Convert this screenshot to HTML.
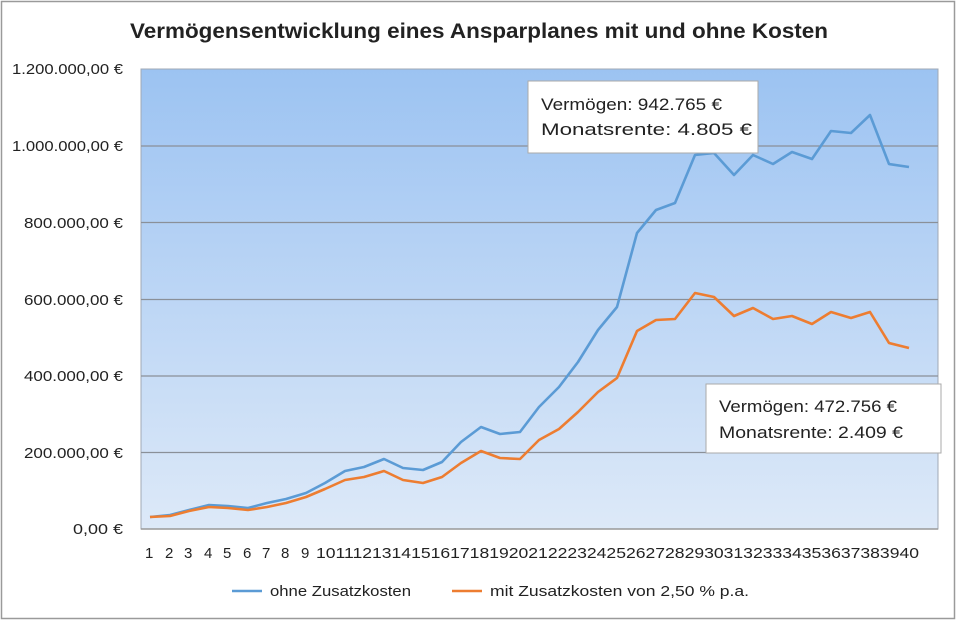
<!DOCTYPE html>
<html><head><meta charset="utf-8"><style>body{margin:0;background:#fff}svg{display:block}text{font-family:"Liberation Sans",sans-serif;fill:#222}</style></head>
<body>
<svg width="959" height="621" viewBox="0 0 959 621">
<defs><linearGradient id="g" x1="0" y1="0" x2="0" y2="1"><stop offset="0" stop-color="#9cc3f2"/><stop offset="1" stop-color="#dde9f8"/></linearGradient></defs>
<rect x="1.5" y="1.5" width="953" height="617" fill="#fff" stroke="#9a9a9a" stroke-width="1.5"/>
<text x="479" y="38" text-anchor="middle" font-size="21" font-weight="bold" textLength="698" lengthAdjust="spacingAndGlyphs" fill="#111">Vermögensentwicklung eines Ansparplanes mit und ohne Kosten</text>
<rect x="141" y="69" width="797" height="460" fill="url(#g)" stroke="#a0a8b4"/>
<g stroke="#8a9098" stroke-width="1.2">
<line x1="141" y1="146" x2="938" y2="146"/><line x1="141" y1="222.5" x2="938" y2="222.5"/><line x1="141" y1="299.5" x2="938" y2="299.5"/><line x1="141" y1="376" x2="938" y2="376"/><line x1="141" y1="452.5" x2="938" y2="452.5"/>
</g>
<line x1="141" y1="529" x2="938" y2="529" stroke="#999" stroke-width="1.5"/>
<g font-size="15" text-anchor="end">
<text x="123" y="74" textLength="111" lengthAdjust="spacingAndGlyphs">1.200.000,00 €</text>
<text x="123" y="151" textLength="111" lengthAdjust="spacingAndGlyphs">1.000.000,00 €</text>
<text x="123" y="228" textLength="99" lengthAdjust="spacingAndGlyphs">800.000,00 €</text>
<text x="123" y="305" textLength="99" lengthAdjust="spacingAndGlyphs">600.000,00 €</text>
<text x="123" y="381" textLength="99" lengthAdjust="spacingAndGlyphs">400.000,00 €</text>
<text x="123" y="458" textLength="99" lengthAdjust="spacingAndGlyphs">200.000,00 €</text>
<text x="123" y="534" textLength="50" lengthAdjust="spacingAndGlyphs">0,00 €</text>
</g>
<polyline fill="none" stroke="#5b9bd5" stroke-width="2.6" stroke-linejoin="round" points="150,517 170,515 189,510 209,505 228,506 248,508 267,503 286,499 306,493 325,483 345,471 364,467 384,459 403,468 423,470 442,462 461,442 481,427 500,434 520,432 539,407 559,387 578,362 598,330 617,307 637,233 656,210 675,203 695,155 714,153 734,175 753,155 773,164 792,152 812,159 831,131 851,133 870,115 889,164 909,167"/>
<polyline fill="none" stroke="#ed7d31" stroke-width="2.6" stroke-linejoin="round" points="150,517 170,516 189,511 209,507 228,508 248,510 267,507 286,503 306,497 325,489 345,480 364,477 384,471 403,480 423,483 442,477 461,463 481,451 500,458 520,459 539,440 559,429 578,412 598,392 617,378 637,331 656,320 675,319 695,293 714,297 734,316 753,308 773,319 792,316 812,324 831,312 851,318 870,312 889,343 909,348"/>
<rect x="528" y="81" width="230" height="72" fill="#fff" stroke="#aaa"/>
<text x="541" y="110" font-size="17" textLength="181" lengthAdjust="spacingAndGlyphs">Vermögen: 942.765 €</text>
<text x="541" y="135" font-size="17" textLength="211" lengthAdjust="spacingAndGlyphs">Monatsrente:  4.805 €</text>
<rect x="706" y="384" width="235" height="69" fill="#fff" stroke="#aaa"/>
<text x="719" y="412" font-size="17" textLength="178" lengthAdjust="spacingAndGlyphs">Vermögen: 472.756 €</text>
<text x="719" y="438" font-size="17" textLength="184" lengthAdjust="spacingAndGlyphs">Monatsrente:  2.409 €</text>
<line x1="232" y1="591" x2="262" y2="591" stroke="#5b9bd5" stroke-width="2.6"/>
<text x="270" y="596" font-size="14.5" textLength="141" lengthAdjust="spacingAndGlyphs">ohne Zusatzkosten</text>
<line x1="452" y1="591" x2="482" y2="591" stroke="#ed7d31" stroke-width="2.6"/>
<text x="490" y="596" font-size="14.5" textLength="259" lengthAdjust="spacingAndGlyphs">mit Zusatzkosten von 2,50 % p.a.</text>
<g font-size="15">
<text x="145" y="558">1</text><text x="165" y="558">2</text><text x="184" y="558">3</text><text x="204" y="558">4</text><text x="223" y="558">5</text><text x="243" y="558">6</text><text x="262" y="558">7</text><text x="281" y="558">8</text><text x="301" y="558">9</text>
<text x="316" y="558" textLength="603" lengthAdjust="spacingAndGlyphs">10111213141516171819202122232425262728293031323334353637383940</text>
</g>
</svg>
</body></html>
